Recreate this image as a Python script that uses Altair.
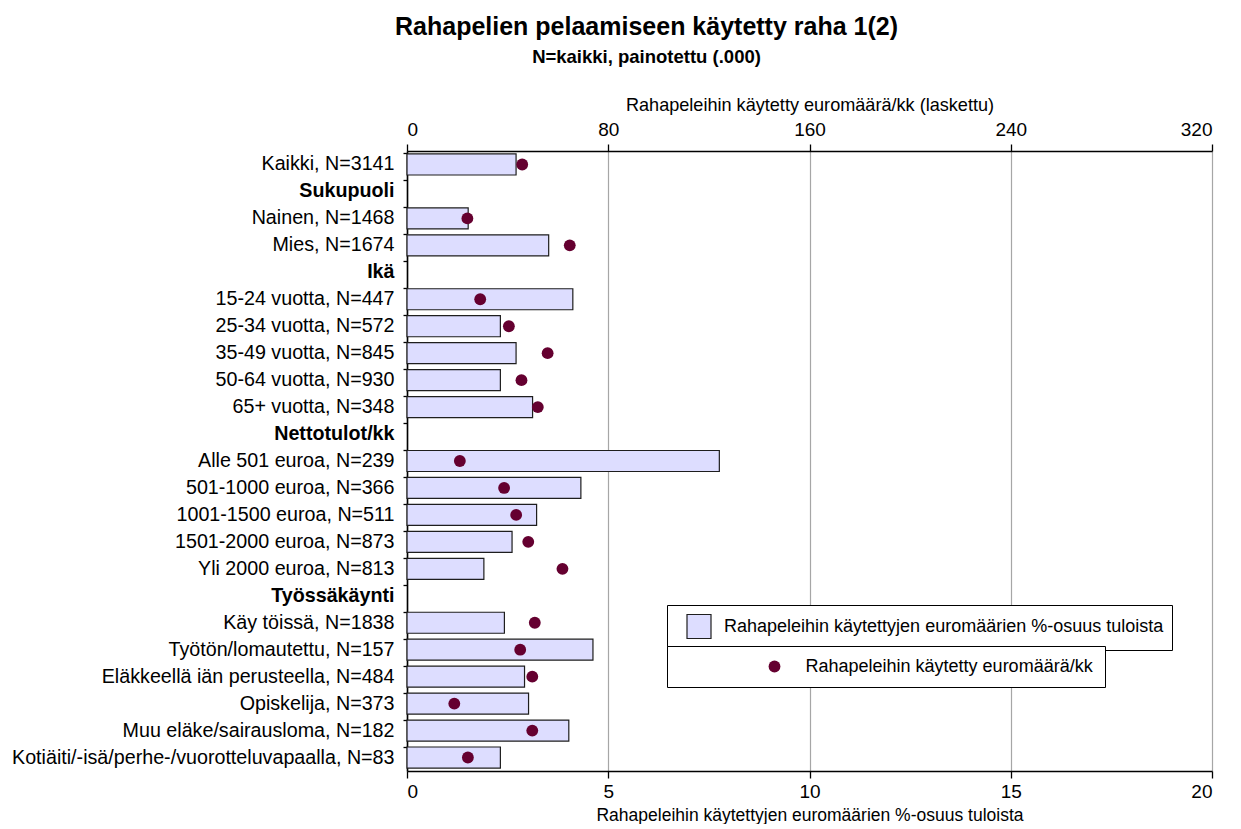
import json
import altair as alt
import pandas as pd

# ---------------- data ----------------
categories = [
    "Kaikki, N=3141",
    "Sukupuoli",
    "Nainen, N=1468",
    "Mies, N=1674",
    "Ikä",
    "15-24 vuotta, N=447",
    "25-34 vuotta, N=572",
    "35-49 vuotta, N=845",
    "50-64 vuotta, N=930",
    "65+ vuotta, N=348",
    "Nettotulot/kk",
    "Alle 501 euroa, N=239",
    "501-1000 euroa, N=366",
    "1001-1500 euroa, N=511",
    "1501-2000 euroa, N=873",
    "Yli 2000 euroa, N=813",
    "Työssäkäynti",
    "Käy töissä, N=1838",
    "Työtön/lomautettu, N=157",
    "Eläkkeellä iän perusteella, N=484",
    "Opiskelija, N=373",
    "Muu eläke/sairausloma, N=182",
    "Kotiäiti/-isä/perhe-/vuorotteluvapaalla, N=83",
]
headers = ["Sukupuoli", "Ikä", "Nettotulot/kk", "Työssäkäynti"]

# share of income spent on gambling, % (bottom axis)
pct_share = [2.71, None, 1.52, 3.52, None, 4.12, 2.32, 2.71, 2.32, 3.12, None,
             7.76, 4.32, 3.22, 2.61, 1.91, None, 2.42, 4.62, 2.92, 3.02, 4.02, 2.32]
# euros per month spent on gambling (top axis)
eur_month = [45.8, None, 24.0, 64.7, None, 29.1, 40.5, 55.9, 45.5, 52.0, None,
             21.0, 38.6, 43.4, 48.2, 61.8, None, 50.8, 45.0, 49.8, 18.8, 49.8, 24.2]

pct_ticks = [0, 5, 10, 15, 20]
eur_ticks = [0, 80, 160, 240, 320]

title_text = "Rahapelien pelaamiseen käytetty raha 1(2)"
subtitle_text = "N=kaikki, painotettu (.000)"
bar_series = "Rahapeleihin käytettyjen euromäärien %-osuus tuloista"
point_series = "Rahapeleihin käytetty euromäärä/kk"
top_axis_title = "Rahapeleihin käytetty euromäärä/kk (laskettu)"

df = pd.DataFrame({
    "ryhma": categories,
    "osuus": pct_share,
    "euroa": eur_month,
    "sarja_pylvas": [bar_series] * len(categories),
    "sarja_piste": [point_series] * len(categories),
})

FONT = "Liberation Sans"
BAR_FILL = "#ddddff"
POINT_COLOR = "#650030"

bold_expr = "indexof(%s, datum.value) >= 0 ? 'bold' : 'normal'" % json.dumps(headers, ensure_ascii=False)

y_enc = alt.Y(
    "ryhma:N",
    sort=categories,
    scale=alt.Scale(domain=categories, paddingInner=0.22, paddingOuter=0.11),
    axis=alt.Axis(
        title=None,
        labelFontSize=19.7,
        labelFontWeight={"expr": bold_expr},
        labelLimit=600,
        labelPadding=9,
        tickSize=4,
        bandPosition=0,
        domainWidth=1.6,
        grid=False,
    ),
)

bars = alt.Chart(df).mark_bar(stroke="#1e1e1e", strokeWidth=1.2).encode(
    y=y_enc,
    x=alt.X(
        "osuus:Q",
        scale=alt.Scale(domain=[0, 20], nice=False, zero=True),
        axis=alt.Axis(
            orient="bottom",
            values=pct_ticks,
            title=bar_series,
            titleFontSize=17.5,
            grid=True,
            gridColor="#a6a6a6",
            gridWidth=1.2,
            tickSize=7,
            labelPadding=4,
            titlePadding=5,
            domainWidth=1.6,
        ),
    ),
    fill=alt.Fill(
        "sarja_pylvas:N",
        scale=alt.Scale(domain=[bar_series], range=[BAR_FILL]),
        legend=alt.Legend(
            title=None,
            orient="none",
            legendX=260,
            legendY=454,
            padding=8.5,
            symbolType="square",
            symbolSize=576,
            symbolStrokeColor="#1e1e1e",
            symbolStrokeWidth=1.2,
            symbolOffset=10.5,
            labelOffset=12,
            labelFontSize=18,
            labelLimit=800,
            strokeColor="black",
            fillColor="white",
        ),
    ),
)

points = alt.Chart(df).mark_circle(size=140, opacity=1).encode(
    y=alt.Y("ryhma:N", sort=categories),
    x=alt.X(
        "euroa:Q",
        scale=alt.Scale(domain=[0, 320], nice=False, zero=True),
        axis=alt.Axis(
            orient="top",
            values=eur_ticks,
            title=top_axis_title,
            titleFontSize=18.1,
            grid=False,
            tickSize=7,
            labelPadding=5,
            titlePadding=6,
            domainWidth=1.6,
        ),
    ),
    color=alt.Color(
        "sarja_piste:N",
        scale=alt.Scale(domain=[point_series], range=[POINT_COLOR]),
        legend=alt.Legend(
            title=None,
            orient="none",
            legendX=260,
            legendY=495,
            padding=11.5,
            symbolType="circle",
            symbolSize=140,
            symbolOpacity=1,
            symbolOffset=87,
            labelOffset=22,
            labelFontSize=18,
            labelLimit=800,
            strokeColor="black",
            fillColor="white",
        ),
    ),
)

chart = (
    alt.layer(bars, points)
    .resolve_scale(x="independent", fill="independent", color="independent")
    .properties(
        width=805,
        height=620,
        padding={"left": 3, "top": 6, "right": 5, "bottom": 0},
        title=alt.TitleParams(
            text=title_text,
            subtitle=subtitle_text,
            font=FONT,
            subtitleFont=FONT,
            fontSize=25,
            subtitleFontSize=18.5,
            fontWeight="bold",
            subtitleFontWeight="bold",
            color="black",
            subtitleColor="black",
            anchor="middle",
            dx=-163,
            subtitlePadding=8,
            offset=30,
        ),
    )
    .configure_view(stroke=None)
    .configure_axis(
        labelFont=FONT,
        titleFont=FONT,
        labelFontSize=19,
        titleFontWeight="normal",
        labelColor="black",
        titleColor="black",
        domainColor="black",
        tickColor="black",
        tickWidth=1.3,
    )
    .configure_legend(labelFont=FONT, labelColor="black")
)

chart.save("out.html", embed_options={"renderer": "svg", "actions": False})
